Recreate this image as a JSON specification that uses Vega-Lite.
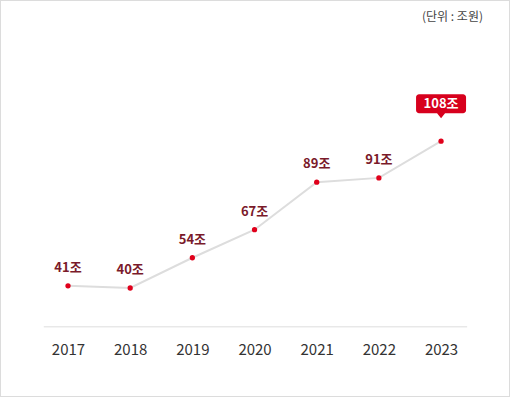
{
  "$schema": "https://vega.github.io/schema/vega-lite/v6.json",
  "width": 510,
  "height": 397,
  "autosize": {"type": "none"},
  "padding": 0,
  "background": "white",
  "config": {
    "view": {"stroke": "#dcdcdc", "strokeWidth": 2},
    "font": "Noto Sans CJK KR"
  },
  "title": {
    "text": "(단위 : 조원)",
    "anchor": "end",
    "orient": "top",
    "frame": "group",
    "offset": -33,
    "dx": -27,
    "fontSize": 12,
    "fontWeight": "normal",
    "color": "#444444",
    "baseline": "alphabetic"
  },
  "data": {
    "values": [
      {"year": 2017, "value": 41, "label": "41조"},
      {"year": 2018, "value": 40, "label": "40조"},
      {"year": 2019, "value": 54, "label": "54조"},
      {"year": 2020, "value": 67, "label": "67조"},
      {"year": 2021, "value": 89, "label": "89조"},
      {"year": 2022, "value": 91, "label": "91조"},
      {"year": 2023, "value": 108, "label": "108조"}
    ]
  },
  "resolve": {"scale": {"x": "shared", "y": "shared"}},
  "layer": [
    {
      "mark": {"type": "line", "color": "#dddddd", "strokeWidth": 2},
      "encoding": {
        "x": {
          "field": "year", "type": "quantitative",
          "scale": {"domain": [2015.906, 2024.109], "nice": false, "zero": false},
          "axis": {
            "orient": "bottom", "offset": -70, "domain": false, "ticks": false, "grid": false,
            "values": [2017, 2018, 2019, 2020, 2021, 2022, 2023], "format": "d",
            "labelFontSize": 15, "labelColor": "#333333", "labelPadding": 15, "title": null,
            "labelFont": "Noto Sans CJK KR"
          }
        },
        "y": {"field": "value", "type": "quantitative", "scale": {"domain": [-10.5, 173.4], "nice": false, "zero": false}, "axis": null}
      }
    },
    {
      "data": {"values": [{"a": 1}]},
      "mark": {"type": "rule", "color": "#dddddd", "strokeWidth": 1},
      "encoding": {
        "x": {"datum": 2016.61, "type": "quantitative"},
        "x2": {"datum": 2023.42},
        "y": {"datum": 22, "type": "quantitative"}
      }
    },
    {
      "transform": [{"filter": "datum.year == 2023"}],
      "mark": {
        "type": "point", "filled": true, "opacity": 1, "color": "#d7001d", "size": 4,
        "shape": "M-22,-47 H22 A3,3 0 0 1 25,-44 V-31 A3,3 0 0 1 22,-28 H4 L0,-23 L-4,-28 H-22 A3,3 0 0 1 -25,-31 V-44 A3,3 0 0 1 -22,-47 Z"
      },
      "encoding": {
        "x": {"field": "year", "type": "quantitative"},
        "y": {"field": "value", "type": "quantitative"}
      }
    },
    {
      "mark": {"type": "point", "filled": true, "opacity": 1, "color": "#e0001b", "size": 28},
      "encoding": {
        "x": {"field": "year", "type": "quantitative"},
        "y": {"field": "value", "type": "quantitative"}
      }
    },
    {
      "transform": [{"filter": "datum.year != 2023"}],
      "mark": {"type": "text", "dy": -18, "fontSize": 13, "fontWeight": "bold", "color": "#7a1a2a"},
      "encoding": {
        "x": {"field": "year", "type": "quantitative"},
        "y": {"field": "value", "type": "quantitative"},
        "text": {"field": "label"}
      }
    },
    {
      "transform": [{"filter": "datum.year == 2023"}],
      "mark": {"type": "text", "dy": -37.5, "fontSize": 13, "fontWeight": "bold", "color": "white"},
      "encoding": {
        "x": {"field": "year", "type": "quantitative"},
        "y": {"field": "value", "type": "quantitative"},
        "text": {"field": "label"}
      }
    }
  ]
}
